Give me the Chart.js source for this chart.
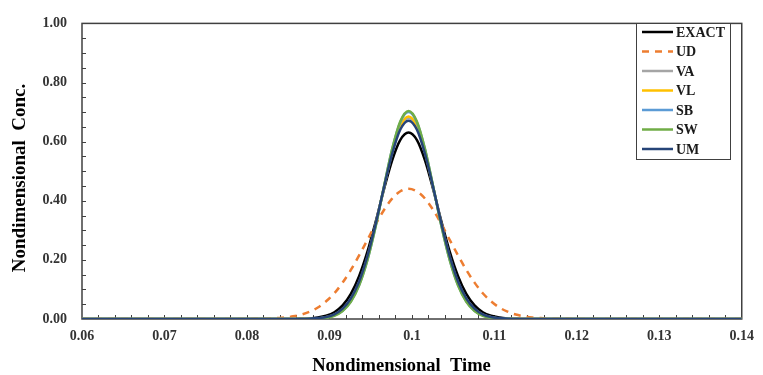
<!DOCTYPE html>
<html>
<head>
<meta charset="utf-8">
<script src="https://cdn.jsdelivr.net/npm/chart.js@4.4.0/dist/chart.umd.min.js"></script>
<style>
  html, body { margin: 0; padding: 0; background: #fff; }
  #wrap { position: relative; width: 763px; height: 375px; }
</style>
</head>
<body>
<div id="wrap"><canvas id="concChart"></canvas></div>
<script>
// sample times (nondimensional)
const times = [0.06, 0.07, 0.08,
  0.0816, 0.0826, 0.0836, 0.0846, 0.0856, 0.0866, 0.0876, 0.0886, 0.0896, 0.0906,
  0.0916, 0.0926, 0.0936, 0.0946, 0.0956, 0.0966, 0.0976, 0.0986, 0.0996, 0.1006,
  0.1016, 0.1026, 0.1036, 0.1046, 0.1056, 0.1066, 0.1076, 0.1086, 0.1096, 0.1106,
  0.1116, 0.1126, 0.1136, 0.1146, 0.1156, 0.1166, 0.1176,
  0.12, 0.13, 0.14];

// concentration
const exact = [0, 0, 0, 0, 0, 0, 0, 0, 0.001, 0.002, 0.005, 0.011, 0.023, 0.046, 0.085, 0.145, 0.227, 0.328, 0.437, 0.536, 0.606,
  0.631,
  0.606, 0.536, 0.437, 0.328, 0.227, 0.145, 0.085, 0.046, 0.023, 0.011, 0.005, 0.002, 0.001, 0, 0, 0, 0, 0, 0, 0, 0];
const ud = [0, 0, 0, 0.001, 0.001, 0.003, 0.005, 0.009, 0.015, 0.025, 0.039, 0.060, 0.087, 0.123, 0.166, 0.215, 0.267, 0.320, 0.368, 0.407, 0.432,
  0.441,
  0.432, 0.407, 0.368, 0.320, 0.267, 0.215, 0.166, 0.123, 0.087, 0.060, 0.039, 0.025, 0.015, 0.009, 0.005, 0.003, 0.001, 0.001, 0, 0, 0];
const va = [0, 0, 0, 0, 0, 0, 0, 0, 0, 0.001, 0.002, 0.006, 0.015, 0.033, 0.067, 0.123, 0.208, 0.319, 0.444, 0.563, 0.649,
  0.680,
  0.649, 0.563, 0.444, 0.319, 0.208, 0.123, 0.067, 0.033, 0.015, 0.006, 0.002, 0.001, 0, 0, 0, 0, 0, 0, 0, 0, 0];
const vl = [0, 0, 0, 0, 0, 0, 0, 0, 0, 0.001, 0.002, 0.006, 0.014, 0.032, 0.065, 0.121, 0.206, 0.317, 0.444, 0.565, 0.653,
  0.685,
  0.653, 0.565, 0.444, 0.317, 0.206, 0.121, 0.065, 0.032, 0.014, 0.006, 0.002, 0.001, 0, 0, 0, 0, 0, 0, 0, 0, 0];
const sb = [0, 0, 0, 0, 0, 0, 0, 0, 0, 0.001, 0.002, 0.005, 0.012, 0.028, 0.060, 0.115, 0.199, 0.313, 0.445, 0.573, 0.666,
  0.700,
  0.666, 0.573, 0.445, 0.313, 0.199, 0.115, 0.060, 0.028, 0.012, 0.005, 0.002, 0.001, 0, 0, 0, 0, 0, 0, 0, 0, 0];
const sw = [0, 0, 0, 0, 0, 0, 0, 0, 0, 0, 0.002, 0.004, 0.011, 0.027, 0.058, 0.113, 0.198, 0.312, 0.446, 0.574, 0.669,
  0.704,
  0.669, 0.574, 0.446, 0.312, 0.198, 0.113, 0.058, 0.027, 0.011, 0.004, 0.002, 0, 0, 0, 0, 0, 0, 0, 0, 0, 0];
const um = [0, 0, 0, 0, 0, 0, 0, 0, 0, 0.001, 0.003, 0.007, 0.016, 0.035, 0.070, 0.127, 0.212, 0.321, 0.443, 0.558, 0.641,
  0.671,
  0.641, 0.558, 0.443, 0.321, 0.212, 0.127, 0.070, 0.035, 0.016, 0.007, 0.003, 0.001, 0, 0, 0, 0, 0, 0, 0, 0, 0];

const seriesNames = ['EXACT', 'UD', 'VA', 'VL', 'SB', 'SW', 'UM'];
const seriesData = [exact, ud, va, vl, sb, sw, um];
const seriesColors = ['#000000', '#ED7D31', '#A5A5A5', '#FFC000', '#5B9BD5', '#70AD47', '#264478'];

const xTicks = [0.06, 0.07, 0.08, 0.09, 0.1, 0.11, 0.12, 0.13, 0.14];
const yTicks = [0, 0.2, 0.4, 0.6, 0.8, 1.0];
const xTitle = 'Nondimensional  Time';
const yTitle = 'Nondimensional  Conc.';

const serif = '"Liberation Serif", "Times New Roman", serif';
const axisColor = '#404040';

// frame, inner minor ticks, axis titles and the boxed legend (Excel style)
const excelFrame = {
  id: 'excelFrame',
  beforeDatasetsDraw(chart) {
    const { ctx, chartArea: a, scales } = chart;
    ctx.save();
    ctx.strokeStyle = axisColor;
    ctx.lineWidth = 1.5;
    ctx.strokeRect(a.left, a.top, a.right - a.left, a.bottom - a.top);
    ctx.lineWidth = 1;
    ctx.beginPath();
    for (let v = 0.05; v < 1; v += 0.05) {
      const y = Math.round(scales.y.getPixelForValue(v)) + 0.5;
      ctx.moveTo(a.left, y);
      ctx.lineTo(a.left + 4, y);
    }
    for (let v = 0.062; v < 0.1395; v += 0.002) {
      const x = Math.round(scales.x.getPixelForValue(v)) + 0.5;
      ctx.moveTo(x, a.bottom);
      ctx.lineTo(x, a.bottom - 4);
    }
    ctx.stroke();

    // axis titles
    ctx.fillStyle = '#000';
    ctx.textAlign = 'center';
    ctx.textBaseline = 'alphabetic';
    ctx.font = 'bold 18.5px ' + serif;
    ctx.fillText(xTitle, 401.5, 371);
    ctx.translate(25, 178);
    ctx.rotate(-Math.PI / 2);
    ctx.font = 'bold 19px ' + serif;
    ctx.fillText(yTitle, 0, 0);
    ctx.restore();
  },
  afterDraw(chart) {
    const { ctx } = chart;
    ctx.save();
    ctx.fillStyle = '#fff';
    ctx.fillRect(636.5, 23.5, 94, 136);
    ctx.strokeStyle = '#404040';
    ctx.lineWidth = 1;
    ctx.strokeRect(636.5, 23.5, 94, 136);
    ctx.font = 'bold 14px ' + serif;
    ctx.textBaseline = 'middle';
    seriesNames.forEach((name, i) => {
      const y = 32 + i * 19.5;
      ctx.strokeStyle = seriesColors[i];
      ctx.lineWidth = 2.5;
      ctx.setLineDash(name === 'UD' ? [7, 6] : []);
      ctx.beginPath();
      ctx.moveTo(642, y);
      ctx.lineTo(673, y);
      ctx.stroke();
      ctx.setLineDash([]);
      ctx.fillStyle = '#1a1a1a';
      ctx.fillText(name, 676, y + 1);
    });
    ctx.restore();
  }
};

const datasets = seriesNames.map((name, i) => ({
  label: name,
  data: times.map((t, j) => ({ x: t, y: seriesData[i][j] })),
  borderColor: seriesColors[i],
  backgroundColor: seriesColors[i],
  borderWidth: 2.5,
  borderDash: name === 'UD' ? [7, 6] : [],
  pointRadius: 0,
  cubicInterpolationMode: 'monotone',
  order: seriesNames.length - i
}));

new Chart(document.getElementById('concChart'), {
  type: 'line',
  data: { datasets },
  options: {
    responsive: true,
    maintainAspectRatio: false,
    animation: false,
    layout: { padding: { top: 15, right: 15, left: 0, bottom: 0 } },
    plugins: {
      legend: { display: false },
      tooltip: { enabled: false }
    },
    scales: {
      x: {
        type: 'linear',
        min: 0.06,
        max: 0.14,
        afterFit(scale) { scale.height = 56; },
        afterBuildTicks(scale) { scale.ticks = xTicks.map(v => ({ value: v })); },
        grid: { display: false, drawTicks: false },
        border: { display: false },
        ticks: {
          padding: 9,
          color: '#333',
          font: { family: serif, size: 14, weight: 'bold' },
          callback: v => String(Number(v.toFixed(2)))
        }
      },
      y: {
        min: 0,
        max: 1,
        afterFit(scale) { scale.width = 82; },
        afterBuildTicks(scale) { scale.ticks = yTicks.map(v => ({ value: v })); },
        grid: { display: false, drawTicks: false },
        border: { display: false },
        ticks: {
          padding: 15,
          color: '#333',
          font: { family: serif, size: 14, weight: 'bold' },
          callback: v => v.toFixed(2)
        }
      }
    }
  },
  plugins: [excelFrame]
});
</script>
</body>
</html>
